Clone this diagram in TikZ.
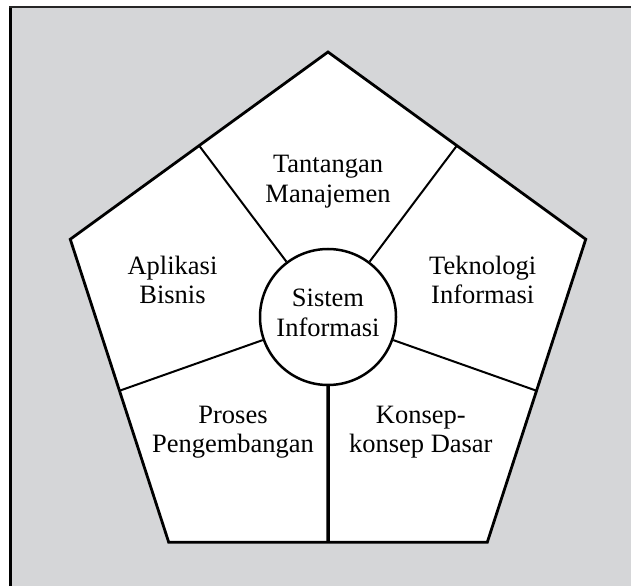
\documentclass[tikz,border=0pt]{standalone}
\usepackage{fontspec}
\setmainfont{Liberation Serif}
\usetikzlibrary{calc}
\definecolor{bggrey}{RGB}{213,214,216}
\begin{document}
\begin{tikzpicture}[x=1pt,y=1pt,
  lbl/.style={align=center,font=\fontsize{26.5}{29.5}\selectfont,anchor=base,inner sep=0pt},
  spoke/.style={line width=2pt},
  edge/.style={line width=2.8pt,line join=miter},
  hub/.style={circle,draw,line width=2.5pt,fill=white,minimum size=136pt,inner sep=0pt}]
\useasboundingbox (0,0) rectangle (631,586);
\fill[white] (0,0) rectangle (631,586);
\fill[bggrey] (10.5,0) rectangle (631,579);
\draw[line width=3pt] (10.5,0) -- (10.5,580);
\draw[line width=2pt,black!85] (9,579) -- (631,579);
% pentagon
\coordinate (pc) at (328,263);
\path (pc) ++(90:271) coordinate (v1);
\path (pc) ++(162:271) coordinate (v2);
\path (pc) ++(234:271) coordinate (v3);
\path (pc) ++(306:271) coordinate (v4);
\path (pc) ++(18:271) coordinate (v5);
\coordinate (m1) at ($(v1)!0.5!(v2)$);
\coordinate (m2) at ($(v2)!0.5!(v3)$);
\coordinate (m3) at ($(v3)!0.5!(v4)$);
\coordinate (m4) at ($(v4)!0.5!(v5)$);
\coordinate (m5) at ($(v5)!0.5!(v1)$);
\fill[white] (v1) -- (v2) -- (v3) -- (v4) -- (v5) -- cycle;
\node[hub] (si) at (328,269) {};
\draw[spoke] (si) -- (m1);
\draw[spoke] (si) -- (m2);
\draw[line width=3.5pt] (si) -- (m3);
\draw[spoke] (si) -- (m4);
\draw[spoke] (si) -- (m5);
\draw[edge] (v1) -- (v2) -- (v3) -- (v4) -- (v5) -- cycle;
% labels (anchor = baseline of the last line)
\node[lbl] (tm) at (328,383.5) {Tantangan\\Manajemen};
\node[lbl] (ab) at (172.5,282) {Aplikasi\\Bisnis};
\node[lbl] (ti) at (482.7,282) {Teknologi\\Informasi};
\node[lbl] (sit) at (328,249.5) {Sistem\\Informasi};
\node[lbl] (pp) at (233,133) {Proses\\Pengembangan};
\node[lbl] (kd) at (420.8,133) {Konsep-\\konsep Dasar};
\end{tikzpicture}
\end{document}
